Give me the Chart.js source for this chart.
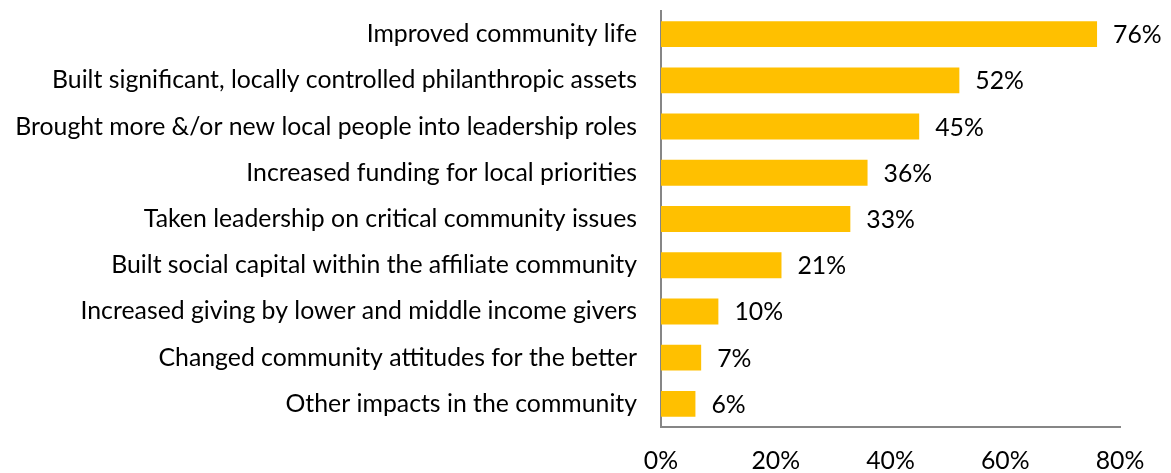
<!DOCTYPE html>
<html>
    <head>
        <title>Community Impacts</title>
        <script src="https://cdn.jsdelivr.net/npm/chart.js@4/dist/chart.umd.min.js"></script>
        <style>
            html, body { margin: 0; padding: 0; background: #fff; }
            .chart-container { position: relative; width: 1171px; height: 473px; }
        </style>
    </head>
    <body>
        <div class="chart-container">
            <canvas id="myChart"></canvas>
        </div>

        <script>
            // chart data
            var categories = [
                'Improved community life',
                'Built significant, locally controlled philanthropic assets',
                'Brought more &/or new local people into leadership roles',
                'Increased funding for local priorities',
                'Taken leadership on critical community issues',
                'Built social capital within the affiliate community',
                'Increased giving by lower and middle income givers',
                'Changed community attitudes for the better',
                'Other impacts in the community'
            ];
            var percents = [76, 52, 45, 36, 33, 21, 10, 7, 6];
            var xTicks = [0, 20, 40, 60, 80];

            var FONT = 'Lato, "Open Sans", sans-serif';
            var FSIZE = 24.8;

            // writes the value at the end of each bar
            var barLabels = {
                id: 'barLabels',
                afterDatasetsDraw: function(chart) {
                    var ctx = chart.ctx;
                    var meta = chart.getDatasetMeta(0);
                    ctx.save();
                    ctx.font = FSIZE + 'px ' + FONT;
                    ctx.fillStyle = '#000';
                    ctx.textAlign = 'left';
                    ctx.textBaseline = 'middle';
                    meta.data.forEach(function(bar, i) {
                        ctx.fillText(percents[i] + '%', bar.x + 16, bar.y + 1);
                    });
                    ctx.restore();
                }
            };

            var ctx = document.getElementById('myChart').getContext('2d');
            var chart = new Chart(ctx, {
                type: 'bar',
                data: {
                    labels: categories,
                    datasets: [{
                        data: percents,
                        backgroundColor: '#FFC000',
                        borderWidth: 0,
                        barPercentage: 0.56,
                        categoryPercentage: 1
                    }]
                },
                options: {
                    indexAxis: 'y',
                    responsive: true,
                    maintainAspectRatio: false,
                    animation: false,
                    layout: { padding: { top: 11, right: 51, left: 0, bottom: 0 } },
                    plugins: {
                        legend: { display: false },
                        tooltip: { enabled: false }
                    },
                    scales: {
                        x: {
                            min: 0,
                            max: 80,
                            afterBuildTicks: function(s) {
                                s.ticks = xTicks.map(function(v) { return { value: v }; });
                            },
                            afterFit: function(s) {
                                s.height = 46;
                                s.paddingTop = 0;
                                s.paddingBottom = 0;
                            },
                            grid: { display: false, drawTicks: false },
                            border: { display: true, color: '#868686', width: 2 },
                            ticks: {
                                padding: 22,
                                color: '#000',
                                font: { family: FONT, size: FSIZE, lineHeight: 1 },
                                maxRotation: 0,
                                callback: function(v) { return v + '%'; }
                            }
                        },
                        y: {
                            afterFit: function(s) {
                                s.width = 661;
                                s.paddingTop = 0;
                                s.paddingBottom = 0;
                            },
                            grid: { display: false, drawTicks: false },
                            border: { display: true, color: '#868686', width: 2 },
                            ticks: {
                                padding: 24,
                                color: '#000',
                                font: { family: FONT, size: FSIZE }
                            }
                        }
                    }
                },
                plugins: [barLabels]
            });
        </script>
    </body>
</html>
